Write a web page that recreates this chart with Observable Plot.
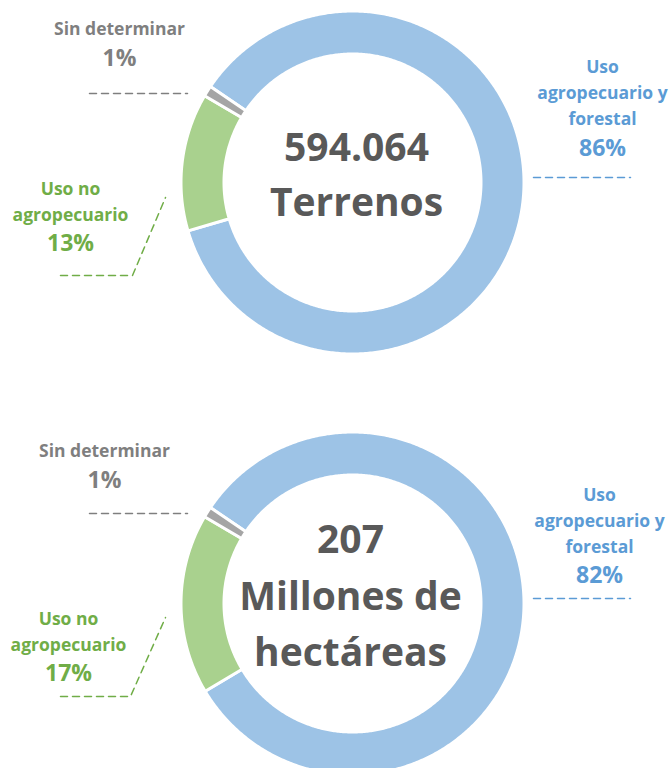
<!DOCTYPE html>
<html>
<head>
<meta charset="utf-8">
<script src="https://cdn.jsdelivr.net/npm/d3@7"></script>
<script src="https://cdn.jsdelivr.net/npm/@observablehq/plot@0.6"></script>
<style>
  html, body { margin: 0; padding: 0; background: #fff; }
  #chart { width: 669px; height: 768px; }
</style>
</head>
<body>
<div id="chart"></div>
<script>
// ---- Data ----
const categories = ["Uso agropecuario y forestal", "Uso no agropecuario", "Sin determinar"];
const nameLines = ["Uso\nagropecuario y\nforestal", "Uso no\nagropecuario", "Sin determinar"];
const terrenosPct = [86, 13, 1];
const hectareasPct = [82, 17, 1];
const centerTotals = ["594.064", "207"];
const centerUnits = ["Terrenos", "Millones de\nhectáreas"];

// ---- Styles ----
const sliceColors = ["#9dc3e6", "#a9d18e", "#a5a5a5"];
const textColors = ["#5b9bd5", "#70ad47", "#7f7f7f"];
const centerColor = "#595959";
const FONT = "'Open Sans', 'DejaVu Sans', sans-serif";

// ---- Layout ----
const W = 669, H = 768;
const R = 171.5, r = 128.5;
const startAngle = -56 * Math.PI / 180;
const donuts = [
  {values: terrenosPct, cx: 352, cy: 182, textX: 356, totalY: 160, unitY: 215,
   labels: [
     {x: 602, nameY: 124, pctY: 155, leader: [[533,177],[630,177]]},
     {x: 70, nameY: 220, pctY: 250, leader: [[60,275],[132,275],[165,197]]},
     {x: 119, nameY: 34, pctY: 65, leader: [[89,93],[187,93]]}
   ]},
  {values: hectareasPct, cx: 352, cy: 603, textX: 350, totalY: 552, unitY: 665,
   labels: [
     {x: 599, nameY: 552, pctY: 582, leader: [[533,598],[630,598]]},
     {x: 68, nameY: 650, pctY: 680, leader: [[60,696],[130,696],[165,617]]},
     {x: 104, nameY: 456, pctY: 487, leader: [[89,513],[187,513]]}
   ]}
];

// ---- Build slice polygons from pie angles ----
const pie = d3.pie().sort(null).startAngle(startAngle).endAngle(startAngle + 2 * Math.PI);
const slicePts = [];
const leaderPts = [];
const labelRows = [];
const centerRows = [];
donuts.forEach((dn, di) => {
  const arcs = pie(dn.values);
  arcs.forEach((a, i) => {
    const key = `d${di}-s${i}`;
    const n = Math.max(8, Math.ceil((a.endAngle - a.startAngle) / 0.01));
    const pts = [];
    for (let k = 0; k <= n; k++) {
      const t = a.startAngle + (a.endAngle - a.startAngle) * k / n;
      pts.push([dn.cx + R * Math.sin(t), dn.cy - R * Math.cos(t)]);
    }
    for (let k = n; k >= 0; k--) {
      const t = a.startAngle + (a.endAngle - a.startAngle) * k / n;
      pts.push([dn.cx + r * Math.sin(t), dn.cy - r * Math.cos(t)]);
    }
    pts.forEach(p => slicePts.push({key, x: p[0], y: p[1], fill: sliceColors[i], cat: categories[i]}));
    const lb = dn.labels[i];
    lb.leader.forEach(p => leaderPts.push({key, x: p[0], y: p[1], color: textColors[i]}));
    labelRows.push({x: lb.x, y: lb.nameY, text: nameLines[i], color: textColors[i], kind: "name"});
    labelRows.push({x: lb.x, y: lb.pctY, text: dn.values[i] + "%", color: textColors[i], kind: "pct"});
  });
  centerRows.push({x: dn.textX, y: dn.totalY, text: centerTotals[di]});
  centerRows.push({x: dn.textX, y: dn.unitY, text: centerUnits[di]});
});

const chart = Plot.plot({
  width: W, height: H,
  margin: 0,
  x: {domain: [0, W], range: [0, W], axis: null},
  y: {domain: [0, H], range: [0, H], axis: null},
  color: {type: "identity"},
  style: {fontFamily: FONT, background: "white"},
  marks: [
    Plot.line(slicePts, {x: "x", y: "y", z: "key", fill: "fill", stroke: "white", strokeWidth: 3, curve: "linear-closed"}),
    Plot.line(leaderPts, {x: "x", y: "y", z: "key", stroke: "color", strokeWidth: 1.5, strokeDasharray: "7,5"}),
    Plot.text(labelRows.filter(d => d.kind === "name"), {x: "x", y: "y", text: "text", fill: "color", fontSize: 17.5, fontWeight: "bold", lineAnchor: "bottom", lineHeight: 1.46, textAnchor: "middle"}),
    Plot.text(labelRows.filter(d => d.kind === "pct"), {x: "x", y: "y", text: "text", fill: "color", fontSize: 23, fontWeight: "bold", lineAnchor: "bottom", textAnchor: "middle"}),
    Plot.text(centerRows, {x: "x", y: "y", text: "text", fill: centerColor, fontSize: 39, fontWeight: "bold", lineAnchor: "bottom", lineHeight: 1.42, textAnchor: "middle"})
  ]
});
document.getElementById("chart").appendChild(chart);
</script>
</body>
</html>
